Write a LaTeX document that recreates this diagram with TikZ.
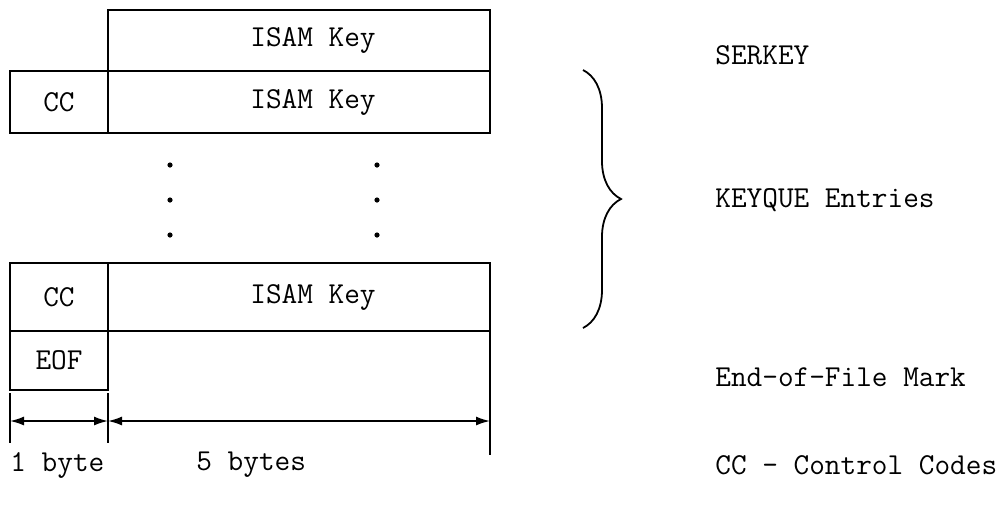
\documentclass[tikz,border=0pt]{standalone}
\usepackage{fontspec}
\usetikzlibrary{positioning, arrows.meta, decorations.pathreplacing}

\tikzset{
    field/.style={draw, line width=0.9pt, rectangle, inner sep=0pt, outer sep=0pt,
        font=\ttfamily\fontsize{15.2}{18}\selectfont},
    note/.style={anchor=west, inner sep=0pt, font=\ttfamily\fontsize{15.2}{18}\selectfont},
    dimline/.style={line width=0.8pt, {Latex[length=7pt,width=4.5pt]}-{Latex[length=7pt,width=4.5pt]}},
    tick/.style={line width=0.6pt}
}

\begin{document}
\begin{tikzpicture}[x=0.5pt, y=-0.5pt]
    \useasboundingbox (0,0) rectangle (1008,505);

    % Record fields
    \node[field, anchor=north west, minimum width=191pt, minimum height=30.5pt] (key1) at (108,10) {\hspace{14pt}ISAM Key};
    \node[field, anchor=north west, minimum width=49pt, minimum height=31pt] (cc2) at (10,71) {CC};
    \node[field, right=0pt of cc2, minimum width=191pt, minimum height=31pt] (key2) {\hspace{14pt}ISAM Key};
    \node[field, anchor=north west, minimum width=49pt, minimum height=34pt] (cc3) at (10,263) {CC};
    \node[field, right=0pt of cc3, minimum width=191pt, minimum height=34pt] (key3) {\hspace{14pt}ISAM Key};
    \node[field, below=0pt of cc3, minimum width=49pt, minimum height=29.5pt] (eof) {EOF};

    % Omitted entries
    \foreach \y in {165,200,235} {
        \fill (170,\y) circle (1.3pt);
        \fill (377,\y) circle (1.3pt);
    }

    % Size markers
    \coordinate (tl) at (10,393);
    \coordinate (tm) at (108,393);
    \coordinate (tr) at (490,455);
    \draw[tick] (tl) -- ++(0,50);
    \draw[tick] (tm) -- ++(0,50);
    \draw[tick] (key3.south east) -- (tr);
    \draw[dimline] (10,421) -- (108,421);
    \draw[dimline] (108,421) -- (490,421);

    % Brace over the queue entries
    \coordinate (brtop) at (583,70);
    \coordinate (brbot) at (583,328);
    \draw[line width=0.9pt, decorate, decoration={brace, amplitude=19pt}] (brtop) -- (brbot);

    % Labels
    \node[note] (serkey) at (715,55) {SERKEY};
    \node[note] (keyque) at (715,200) {KEYQUE Entries};
    \node[note] (eofmark) at (715,377) {End-of-File Mark};
    \node[note] (ccnote) at (715,465) {CC - Control Codes};
    \node[note] (onebyte) at (10,465) {1 byte};
    \node[note] (fivebytes) at (196,465) {5 bytes};
\end{tikzpicture}
\end{document}
